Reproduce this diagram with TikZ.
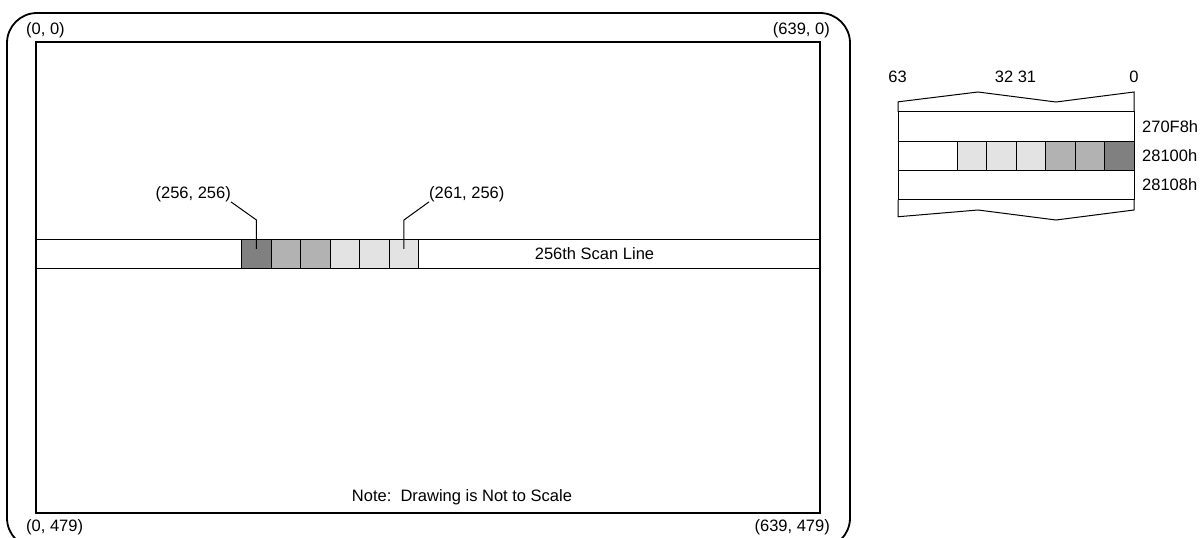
\documentclass[tikz,border=0pt]{standalone}
\usepackage{fontspec}
\setmainfont{Liberation Sans}
\usetikzlibrary{positioning}
\definecolor{pxdark}{HTML}{808080}
\definecolor{pxmid}{HTML}{B2B2B2}
\definecolor{pxlight}{HTML}{E3E3E3}

\begin{document}
\begin{tikzpicture}[
  x=1pt, y=-1pt,
  font=\fontsize{16.5}{19}\selectfont,
  frame/.style={line width=1.8pt, rounded corners=30pt},
  screen/.style={rectangle, draw, line width=1.2pt, inner sep=0pt, outer sep=0pt},
  band/.style={rectangle, draw, line width=1pt, inner sep=0pt, outer sep=0pt},
  px/.style={band, minimum width=29.5pt, minimum height=29.5pt},
  lbl/.style={inner sep=0pt},
  lead/.style={line width=1pt}]

  \useasboundingbox (0,0) rectangle (1203,538);
  \begin{scope}
  \clip (0,0) rectangle (1203,538);
  \draw[frame] (7,13) rectangle (850,548);
  \end{scope}

  % screen
  \node[screen, minimum width=784pt, minimum height=471pt] (scr) at (428,277.5) {};
  \node[lbl, anchor=west] (c00) at (26,30) {(0, 0)};
  \node[lbl, anchor=east] (c10) at (830,30) {(639, 0)};
  \node[lbl, anchor=west] (c01) at (26,527) {(0, 479)};
  \node[lbl, anchor=east] (c11) at (830,527) {(639, 479)};
  \node[lbl] (note) at (462,497) {Note:\ \ Drawing is Not to Scale};

  % scan line
  \node[band, minimum width=784pt, minimum height=29.5pt] (scan) at (428,253.75) {};
  \node[lbl] (scantxt) at (594.5,253.5) {256th Scan Line};
  \node[px, fill=pxdark] (p0) at (256.45,253.75) {};
  \node[px, fill=pxmid, right=0pt of p0] (p1) {};
  \node[px, fill=pxmid, right=0pt of p1] (p2) {};
  \node[px, fill=pxlight, right=0pt of p2] (p3) {};
  \node[px, fill=pxlight, right=0pt of p3] (p4) {};
  \node[px, fill=pxlight, right=0pt of p4] (p5) {};
  \node[lbl, anchor=east] (lab0) at (231,194) {(256, 256)};
  \node[lbl, anchor=west] (lab5) at (429,194) {(261, 256)};
  \draw[lead] (lab0.south east) -- (p0.center |- 0,220) -- ([yshift=5pt]p0.center);
  \draw[lead] (lab5.south west) -- (p5.center |- 0,220) -- ([yshift=5pt]p5.center);

  % memory
  \node[band, minimum width=236pt, minimum height=29.3pt] (row1) at (1016,155.8) {};
  \node[band, minimum width=236pt, minimum height=29.3pt, above=0pt of row1] (row0) {};
  \node[band, minimum width=236pt, minimum height=29.3pt, below=0pt of row1] (row2) {};
  \node[px, minimum height=29.3pt, fill=pxdark, anchor=east] (m5) at (row1.east) {};
  \node[px, minimum height=29.3pt, fill=pxmid, left=0pt of m5] (m4) {};
  \node[px, minimum height=29.3pt, fill=pxmid, left=0pt of m4] (m3) {};
  \node[px, minimum height=29.3pt, fill=pxlight, left=0pt of m3] (m2) {};
  \node[px, minimum height=29.3pt, fill=pxlight, left=0pt of m2] (m1) {};
  \node[px, minimum height=29.3pt, fill=pxlight, left=0pt of m1] (m0) {};
  \draw[band] (row0.north west) -- ++(0,-10) -- (978,92) -- (1056,102) -- (1134,92) -- (row0.north east);
  \draw[band] (row2.south west) -- ++(0,17) -- (978,210) -- (1056,220) -- (1134,210) -- (row2.south east);
  \node[lbl, anchor=west, right=8pt of row0] (a0) {270F8h};
  \node[lbl, anchor=west, right=8pt of row1] (a1) {28100h};
  \node[lbl, anchor=west, right=8pt of row2] (a2) {28108h};
  \node[lbl] (b63) at (897.5,76.5) {63};
  \node[lbl] (b32) at (1015.5,76.5) {32 31};
  \node[lbl] (b0) at (1134,76.5) {0};
\end{tikzpicture}
\end{document}
